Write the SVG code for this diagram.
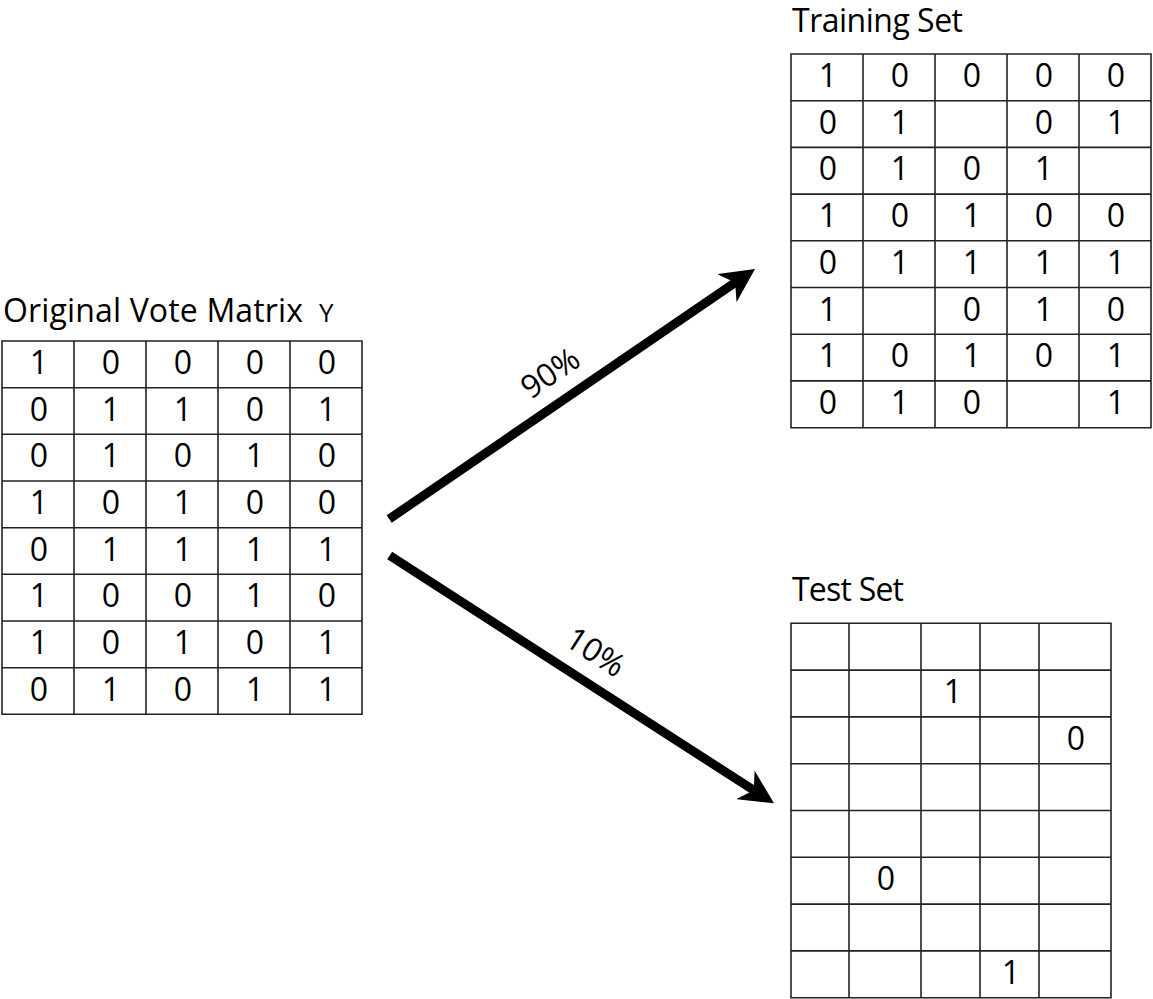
<svg xmlns="http://www.w3.org/2000/svg" width="1153" height="999" viewBox="0 0 1153 999">
<style>
.title{font-family:"Open Sans","Liberation Sans",sans-serif;font-size:32px;fill:#000}
.d{font-family:"Open Sans","Liberation Sans",sans-serif;font-size:32px;fill:#000;text-anchor:middle}
.pct{font-family:"Open Sans","Liberation Sans",sans-serif;font-size:32px;fill:#000;text-anchor:middle}
.grid{fill:none;stroke:#222;stroke-width:1.6}
.arrow{fill:none;stroke:#000;stroke-width:9;stroke-linecap:butt}
</style>
<defs>
<marker id="head" markerUnits="userSpaceOnUse" viewBox="0 0 34 34" markerWidth="34" markerHeight="34" refX="10" refY="17" orient="auto">
<path d="M34,17 L0,0 L10,17 L0,34 Z" fill="#000"/>
</marker>
</defs>
<rect width="1153" height="999" fill="#fff"/>

<g id="original">
<text class="title" x="3" y="322" textLength="300">Original Vote Matrix</text>
<text class="title" x="319" y="322" style="font-size:26px">Y</text>
<path class="grid" d="M2,341H362V714.3H2Z M74,341V714.3 M146,341V714.3 M218,341V714.3 M290,341V714.3 M2,387.7H362 M2,434.3H362 M2,481H362 M2,527.7H362 M2,574.3H362 M2,621H362 M2,667.7H362"/>
<g>
<text class="d" x="39" y="374">1</text><text class="d" x="111" y="374">0</text><text class="d" x="183" y="374">0</text><text class="d" x="255" y="374">0</text><text class="d" x="327" y="374">0</text>
<text class="d" x="39" y="420.7">0</text><text class="d" x="111" y="420.7">1</text><text class="d" x="183" y="420.7">1</text><text class="d" x="255" y="420.7">0</text><text class="d" x="327" y="420.7">1</text>
<text class="d" x="39" y="467.3">0</text><text class="d" x="111" y="467.3">1</text><text class="d" x="183" y="467.3">0</text><text class="d" x="255" y="467.3">1</text><text class="d" x="327" y="467.3">0</text>
<text class="d" x="39" y="514">1</text><text class="d" x="111" y="514">0</text><text class="d" x="183" y="514">1</text><text class="d" x="255" y="514">0</text><text class="d" x="327" y="514">0</text>
<text class="d" x="39" y="560.7">0</text><text class="d" x="111" y="560.7">1</text><text class="d" x="183" y="560.7">1</text><text class="d" x="255" y="560.7">1</text><text class="d" x="327" y="560.7">1</text>
<text class="d" x="39" y="607.3">1</text><text class="d" x="111" y="607.3">0</text><text class="d" x="183" y="607.3">0</text><text class="d" x="255" y="607.3">1</text><text class="d" x="327" y="607.3">0</text>
<text class="d" x="39" y="654">1</text><text class="d" x="111" y="654">0</text><text class="d" x="183" y="654">1</text><text class="d" x="255" y="654">0</text><text class="d" x="327" y="654">1</text>
<text class="d" x="39" y="700.7">0</text><text class="d" x="111" y="700.7">1</text><text class="d" x="183" y="700.7">0</text><text class="d" x="255" y="700.7">1</text><text class="d" x="327" y="700.7">1</text>
</g>
</g>

<g id="training">
<text class="title" x="792" y="32" textLength="171">Training Set</text>
<path class="grid" d="M791,54H1151V427.7H791Z M863,54V427.7 M935,54V427.7 M1007,54V427.7 M1079,54V427.7 M791,100.7H1151 M791,147.4H1151 M791,194.1H1151 M791,240.8H1151 M791,287.5H1151 M791,334.2H1151 M791,380.9H1151"/>
<g>
<text class="d" x="828" y="87">1</text><text class="d" x="900" y="87">0</text><text class="d" x="972" y="87">0</text><text class="d" x="1044" y="87">0</text><text class="d" x="1116" y="87">0</text>
<text class="d" x="828" y="133.7">0</text><text class="d" x="900" y="133.7">1</text><text class="d" x="1044" y="133.7">0</text><text class="d" x="1116" y="133.7">1</text>
<text class="d" x="828" y="180.4">0</text><text class="d" x="900" y="180.4">1</text><text class="d" x="972" y="180.4">0</text><text class="d" x="1044" y="180.4">1</text>
<text class="d" x="828" y="227.1">1</text><text class="d" x="900" y="227.1">0</text><text class="d" x="972" y="227.1">1</text><text class="d" x="1044" y="227.1">0</text><text class="d" x="1116" y="227.1">0</text>
<text class="d" x="828" y="273.8">0</text><text class="d" x="900" y="273.8">1</text><text class="d" x="972" y="273.8">1</text><text class="d" x="1044" y="273.8">1</text><text class="d" x="1116" y="273.8">1</text>
<text class="d" x="828" y="320.5">1</text><text class="d" x="972" y="320.5">0</text><text class="d" x="1044" y="320.5">1</text><text class="d" x="1116" y="320.5">0</text>
<text class="d" x="828" y="367.2">1</text><text class="d" x="900" y="367.2">0</text><text class="d" x="972" y="367.2">1</text><text class="d" x="1044" y="367.2">0</text><text class="d" x="1116" y="367.2">1</text>
<text class="d" x="828" y="413.9">0</text><text class="d" x="900" y="413.9">1</text><text class="d" x="972" y="413.9">0</text><text class="d" x="1116" y="413.9">1</text>
</g>
</g>

<g id="test">
<text class="title" x="792" y="601" textLength="112">Test Set</text>
<path class="grid" d="M791,623.3H1111V997.7H791Z M849,623.3V997.7 M921,623.3V997.7 M980,623.3V997.7 M1039,623.3V997.7 M791,670.1H1111 M791,716.9H1111 M791,763.7H1111 M791,810.5H1111 M791,857.3H1111 M791,904.1H1111 M791,950.9H1111"/>
<text class="d" x="953" y="703">1</text>
<text class="d" x="1076" y="749.8">0</text>
<text class="d" x="886" y="890.2">0</text>
<text class="d" x="1011" y="983.8">1</text>
</g>

<g id="connectors">
<line class="arrow" x1="389.2" y1="519" x2="735.2" y2="282.5" marker-end="url(#head)"/>
<line class="arrow" x1="389.7" y1="555.5" x2="753.8" y2="790.3" marker-end="url(#head)"/>
<g transform="translate(550,372.7) rotate(-34.35)"><text class="pct" x="0" y="11.4">90%</text></g>
<g transform="translate(595.7,651.7) rotate(32.8)"><text class="pct" x="0" y="11.4">10%</text></g>
</g>
</svg>
